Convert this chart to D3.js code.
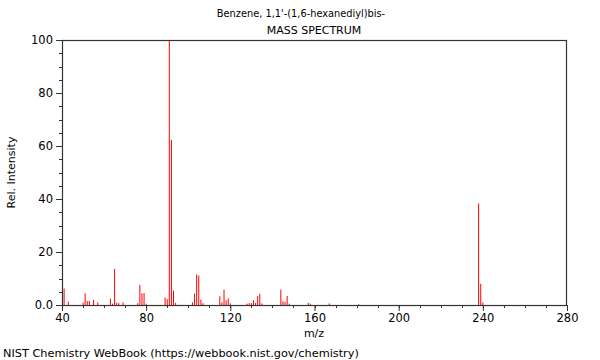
<!DOCTYPE html>
<html>
<head>
<meta charset="utf-8">
<script src="https://cdn.jsdelivr.net/npm/d3@7"></script>
<style>
  html, body { margin: 0; padding: 0; background: #fff; }
  svg { display: block; font-family: "DejaVu Sans", sans-serif; }
</style>
</head>
<body>
<svg id="chart" width="600" height="360"></svg>
<script>
// m/z values and relative intensities
const mzValues = [41, 43, 50, 51, 52, 53, 55, 57, 63, 64, 65, 66, 67, 69, 76, 77, 78, 79, 80,
  89, 90, 91, 92, 93, 94, 102, 103, 104, 105, 106, 107, 115, 116, 117, 118, 119, 120,
  128, 129, 130, 131, 132, 133, 134, 135, 144, 145, 146, 147, 148, 157, 158, 167, 181,
  238, 239, 240];
const intensities = [6.2, 1.3, 0.9, 4.4, 1.5, 1.5, 1.9, 1.0, 2.4, 0.5, 13.6, 0.9, 0.7, 1.0, 0.7, 7.6, 4.4, 4.5, 0.5,
  2.8, 2.2, 100, 62.3, 5.4, 0.8, 1.0, 4.3, 11.5, 11.1, 2.0, 0.7, 3.3, 1.0, 5.8, 1.8, 2.5, 0.6,
  0.5, 0.7, 0.7, 1.8, 0.8, 3.4, 4.2, 0.6, 5.8, 1.4, 1.2, 3.4, 0.5, 0.8, 0.5, 0.6, 0.3,
  38.3, 8.0, 1.0];
const xTickValues = [40, 80, 120, 160, 200, 240, 280];
const yTickValues = [0, 20, 40, 60, 80, 100];
const yTickLabels = ["0.0", "20", "40", "60", "80", "100"];
const titleLines = ["Benzene, 1,1'-(1,6-hexanediyl)bis-", "MASS SPECTRUM"];

(function () {
const svg = d3.select("#chart");
const mLeft = 62, mRight = 567, mTop = 40, mBottom = 305;

const x = d3.scaleLinear().domain([40, 280]).range([mLeft, mRight]);
const y = d3.scaleLinear().domain([0, 100]).range([mBottom, mTop]);

// bars
svg.append("g").selectAll("rect")
  .data(mzValues.map((m, i) => ({ m, v: intensities[i] })))
  .join("rect")
  .attr("x", d => x(d.m) - 0.5)
  .attr("width", 1.0)
  .attr("y", d => y(d.v))
  .attr("height", d => y(0) - y(d.v))
  .attr("fill", "#ff0000");

const axisColor = "#333";

// minor ticks
const xMinor = d3.range(40, 281, 10);
svg.append("g").attr("shape-rendering", "crispEdges").selectAll("line")
  .data(xMinor).join("line")
  .attr("x1", d => Math.round(x(d)) + 0.5).attr("x2", d => Math.round(x(d)) + 0.5)
  .attr("y1", mBottom).attr("y2", mBottom + 3)
  .attr("stroke", axisColor);
const yMinor = d3.range(0, 101, 5);
svg.append("g").attr("shape-rendering", "crispEdges").selectAll("line")
  .data(yMinor).join("line")
  .attr("y1", d => Math.round(y(d)) + 0.5).attr("y2", d => Math.round(y(d)) + 0.5)
  .attr("x1", mLeft - 3).attr("x2", mLeft)
  .attr("stroke", axisColor);

// major axes
const xAxis = d3.axisBottom(x).tickValues(xTickValues).tickSize(6).tickPadding(3).tickFormat(d3.format("d"));
const gx = svg.append("g").attr("transform", `translate(0,${mBottom})`).call(xAxis);
const yAxis = d3.axisLeft(y).tickValues(yTickValues).tickSize(6).tickPadding(3)
  .tickFormat((d, i) => yTickLabels[i]);
const gy = svg.append("g").attr("transform", `translate(${mLeft},0)`).call(yAxis);
[gx, gy].forEach(g => {
  g.select(".domain").remove();
  g.selectAll("line").attr("stroke", axisColor);
  g.selectAll("text").attr("font-size", 11.5).attr("fill", "#000").attr("font-family", "DejaVu Sans");
});

// frame
svg.append("rect")
  .attr("x", mLeft + 0.5).attr("y", mTop + 0.5)
  .attr("width", mRight - mLeft - 1).attr("height", mBottom - mTop)
  .attr("fill", "none").attr("stroke", axisColor).attr("stroke-width", 1.2);

// titles
const titleSizes = [9.8, 11];
const titleCenters = [301, 314];
svg.selectAll(".title").data(titleLines).join("text")
  .attr("x", (d, i) => titleCenters[i]).attr("y", (d, i) => 17 + i * 17)
  .attr("text-anchor", "middle").attr("font-size", (d, i) => titleSizes[i]).attr("fill", "#000")
  .text(d => d);

svg.append("text").attr("x", 314).attr("y", 337)
  .attr("text-anchor", "middle").attr("font-size", 11).text("m/z");

svg.append("text")
  .attr("transform", `translate(15,${(mTop + mBottom) / 2}) rotate(-90)`)
  .attr("text-anchor", "middle").attr("font-size", 11).text("Rel. Intensity");

svg.append("text").attr("x", 3).attr("y", 357)
  .attr("font-size", 11.3).text("NIST Chemistry WebBook (https://webbook.nist.gov/chemistry)");
})();
</script>
</body>
</html>
